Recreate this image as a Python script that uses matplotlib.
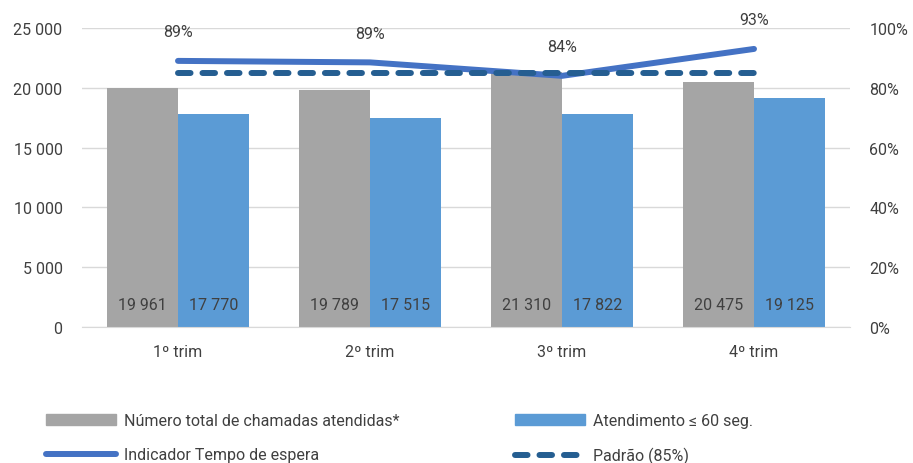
import matplotlib.pyplot as plt
import numpy as np
from matplotlib.lines import Line2D
from matplotlib.patches import Patch

plt.rcParams['font.family'] = ['Roboto', 'DejaVu Sans']

trimestres = ['1º trim', '2º trim', '3º trim', '4º trim']
total_chamadas = [19961, 19789, 21310, 20475]
atendimento_60 = [17770, 17515, 17822, 19125]
indicador = [0.89, 0.885, 0.84, 0.93]
indicador_rotulos = ['89%', '89%', '84%', '93%']
padrao = [0.85, 0.85, 0.85, 0.85]

c_cinza = '#A5A5A5'
c_azul = '#5B9BD5'
c_linha = '#4472C4'
c_padrao = '#255E91'
c_texto = '#404040'
tracejado = (0, (2.1, 2.0))

def fmt(v):
    return f'{v:,}'.replace(',', ' ')

fig = plt.figure(figsize=(9.13, 4.64), dpi=100)
ax = fig.add_axes([82 / 913, 1 - 328 / 464, 768 / 913, 299 / 464])
x = np.arange(len(trimestres))
w = 0.37

ax.bar(x - w / 2, total_chamadas, w, color=c_cinza, zorder=2)
ax.bar(x + w / 2, atendimento_60, w, color=c_azul, zorder=2)
for xi, v in zip(x, total_chamadas):
    ax.text(xi - w / 2, 1900, fmt(v), ha='center', va='center', fontsize=11.5, color=c_texto, zorder=3)
for xi, v in zip(x, atendimento_60):
    ax.text(xi + w / 2, 1900, fmt(v), ha='center', va='center', fontsize=11.5, color=c_texto, zorder=3)

ax.set_xlim(-0.5, 3.5)
ax.set_ylim(0, 25000)
ax.set_yticks(range(0, 25001, 5000))
ax.set_yticklabels([fmt(v) for v in range(0, 25001, 5000)])
ax.set_xticks(x)
ax.set_xticklabels(trimestres)
ax.grid(axis='y', color='#D9D9D9', linewidth=1, zorder=0)
for s in ['top', 'right', 'left']:
    ax.spines[s].set_visible(False)
ax.spines['bottom'].set_color('#D9D9D9')
ax.tick_params(length=0, labelsize=11.5, colors=c_texto)
ax.tick_params(axis='y', pad=14)
ax.tick_params(axis='x', pad=12)

ax2 = ax.twinx()
ax2.set_ylim(0, 1)
ax2.set_yticks(np.arange(0, 1.01, 0.2))
ax2.set_yticklabels([f'{int(round(v * 100))}%' for v in np.arange(0, 1.01, 0.2)])
for s in ax2.spines.values():
    s.set_visible(False)
ax2.tick_params(length=0, labelsize=11.5, colors=c_texto, pad=14)

ax2.plot(x, indicador, color=c_linha, linewidth=4.3, solid_capstyle='round', zorder=4)
ax2.plot(x, padrao, color=c_padrao, linewidth=4.3, linestyle=tracejado,
         dash_capstyle='round', zorder=4)
for xi, v, r in zip(x, indicador, indicador_rotulos):
    ax2.text(xi, v + 0.097, r, ha='center', va='center', fontsize=11.5, color=c_texto)

leg_kw = dict(loc='upper left', frameon=False, fontsize=11.5, handlelength=4.4,
              handleheight=0.7, handletextpad=0.5, labelspacing=1.2, borderpad=0,
              labelcolor=c_texto)
fig.legend(handles=[Patch(color=c_cinza),
                    Line2D([], [], color=c_linha, linewidth=4.3, solid_capstyle='round')],
           labels=['Número total de chamadas atendidas*', 'Indicador Tempo de espera'],
           bbox_to_anchor=(38 / 913, 1 - 406 / 464), **leg_kw)
fig.legend(handles=[Patch(color=c_azul),
                    Line2D([], [], color=c_padrao, linewidth=4.3,
                           linestyle=tracejado, dash_capstyle='round')],
           labels=['Atendimento ≤ 60 seg.', 'Padrão (85%)'],
           bbox_to_anchor=(507 / 913, 1 - 406 / 464), **leg_kw)

fig.savefig('out.png', dpi=100)
